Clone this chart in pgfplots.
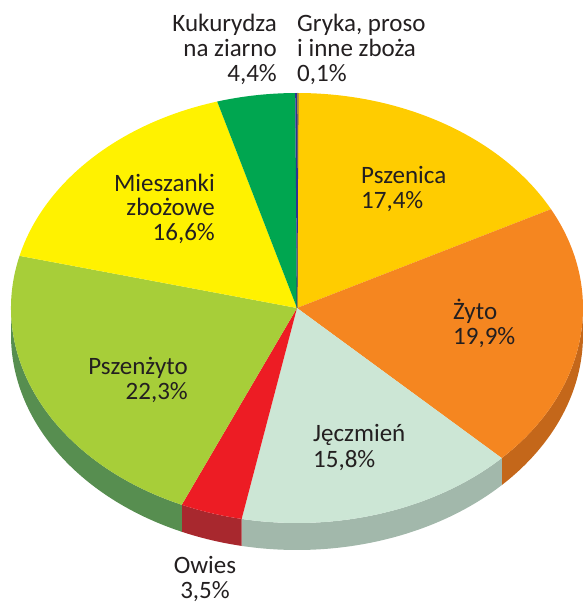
\documentclass[border=0pt]{standalone}
\usepackage{pgfplots}
\pgfplotsset{compat=1.18}
\usepackage{fontspec}
\setmainfont{Carlito}
\definecolor{cPsz}{HTML}{FFCC00}
\definecolor{cZyto}{HTML}{F58620}
\definecolor{sZyto}{HTML}{C4671A}
\definecolor{cJecz}{HTML}{CCE6D5}
\definecolor{sJecz}{HTML}{A2B8AB}
\definecolor{cOwies}{HTML}{ED1C24}
\definecolor{sOwies}{HTML}{A8282E}
\definecolor{cPszz}{HTML}{A7CE39}
\definecolor{sPszz}{HTML}{578E50}
\definecolor{cMiesz}{HTML}{FFF200}
\definecolor{cKuk}{HTML}{00A650}
\definecolor{cGryka}{HTML}{2E3192}
\definecolor{txt}{HTML}{231F20}
\newcommand\lab[4]{\node[anchor=#1,inner sep=0pt,text=txt,font=\fontsize{25pt}{25pt}\selectfont] at (axis cs:#2,#3) {#4};}
\begin{document}
\begin{tikzpicture}
\begin{axis}[hide axis, scale only axis, width=583pt, height=603pt,
  xmin=0, xmax=583, ymin=0, ymax=603, clip=false]
\coordinate (BL) at (rel axis cs:0,0);
\coordinate (TR) at (rel axis cs:1,1);
\pgfplotsextra{
  % sides
  \xdef\cum{0}
  \foreach \v/\c/\sc in {17.4/cPsz/cPsz, 19.9/cZyto/sZyto, 15.8/cJecz/sJecz, 3.5/cOwies/sOwies, 22.3/cPszz/sPszz, 16.6/cMiesz/cMiesz, 4.4/cKuk/cKuk, 0.1/cGryka/cGryka}{
    \pgfmathsetmacro\a{90-3.6*\cum}
    \pgfmathsetmacro\b{90-3.6*(\cum+\v)}
    \pgfmathsetmacro\s{min(\a,0)}
    \pgfmathsetmacro\e{max(\b,-180)}
    \ifdim\s pt>\e pt
      \fill[\sc] (axis cs:297,295) ++(\s:286pt and 215pt) arc[start angle=\s,end angle=\e,x radius=286pt,y radius=215pt] -- ++(0,-27pt) arc[start angle=\e,end angle=\s,x radius=286pt,y radius=215pt] -- cycle;
    \fi
    \pgfmathsetmacro\nc{\cum+\v}\xdef\cum{\nc}
  }
  % tops
  \xdef\cum{0}
  \foreach \v/\c in {17.4/cPsz, 19.9/cZyto, 15.8/cJecz, 3.5/cOwies, 22.3/cPszz, 16.6/cMiesz, 4.4/cKuk, 0.1/cGryka}{
    \pgfmathsetmacro\a{90-3.6*\cum}
    \pgfmathsetmacro\b{90-3.6*(\cum+\v)}
    \fill[\c] (axis cs:297,295) -- ++(\a:286pt and 215pt) arc[start angle=\a,end angle=\b,x radius=286pt,y radius=215pt] -- cycle;
    \pgfmathsetmacro\nc{\cum+\v}\xdef\cum{\nc}
  }
  \draw[cGryka, line width=0.8pt] (axis cs:297,295) -- ++(89.8:286pt and 215pt);
}
\lab{base west}{361}{419}{Pszenica}
\lab{base west}{361}{394}{17,4\%}
\lab{base west}{453}{283}{Żyto}
\lab{base west}{453}{258}{19,9\%}
\lab{base west}{313}{161}{Jęczmień}
\lab{base west}{313}{135}{15,8\%}
\lab{base east}{188}{228}{Pszenżyto}
\lab{base east}{188}{203}{22,3\%}
\lab{base east}{215}{411}{Mieszanki}
\lab{base east}{215}{387}{zbożowe}
\lab{base east}{215}{362}{16,6\%}
\lab{base east}{277}{571}{Kukurydza}
\lab{base east}{277}{546}{na ziarno}
\lab{base east}{277}{521}{4,4\%}
\lab{base west}{297}{571}{Gryka, proso}
\lab{base west}{297}{546}{i inne zboża}
\lab{base west}{297}{521}{0,1\%}
\lab{base}{205}{30}{Owies}
\lab{base}{205}{5}{3,5\%}
\end{axis}
\pgfresetboundingbox
\path[use as bounding box] (BL) rectangle (TR);
\end{tikzpicture}
\end{document}
